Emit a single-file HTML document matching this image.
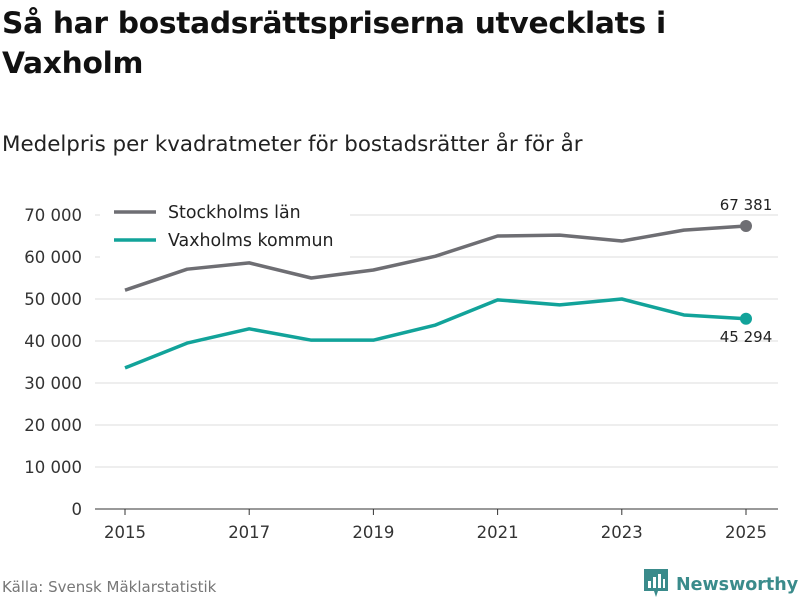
<!DOCTYPE html>
<html><head><meta charset="utf-8"><style>
body{margin:0;width:800px;height:600px;background:#fff;font-family:"DejaVu Sans","Liberation Sans",sans-serif;overflow:hidden;position:relative}
h1{position:absolute;left:2px;top:4px;margin:0;font-size:29.7px;line-height:40px;font-weight:bold;color:#111;letter-spacing:-0.3px}
.sub{position:absolute;left:2px;top:132px;font-size:21.4px;color:#222;white-space:nowrap}
.src{position:absolute;left:2px;top:578px;font-size:15px;color:#777}
.logo{position:absolute;left:644px;top:569px;font-size:17.5px;font-weight:bold;color:#3a8b8b;white-space:nowrap}
</style></head><body>
<h1>Så har bostadsrättspriserna utvecklats i<br>Vaxholm</h1>
<div class="sub">Medelpris per kvadratmeter för bostadsrätter år för år</div>
<svg id="chart" width="800" height="600" style="position:absolute;left:0;top:0"></svg>
<div class="src">Källa: Svensk Mäklarstatistik</div>
<div class="logo"><svg width="24" height="28" style="vertical-align:-7px;margin-right:8px"><path d="M0 0H24V22H14L12 28L10 22H0Z" fill="#3a8b8b"/><rect x="4" y="12" width="3" height="7" fill="#fff"/><rect x="9" y="8" width="3" height="11" fill="#fff"/><rect x="14" y="5" width="3" height="14" fill="#fff"/><rect x="19" y="10" width="2" height="9" fill="#fff"/></svg>Newsworthy</div>
<script>
const years=[2015,2016,2017,2018,2019,2020,2021,2022,2023,2024,2025];
const stockholm=[52100,57100,58600,55000,56900,60200,65000,65200,63800,66400,67381];
const vaxholm=[33600,39500,42900,40200,40200,43800,49800,48600,50000,46200,45294];
const yTicks=[0,10000,20000,30000,40000,50000,60000,70000];
const xTicks=[2015,2017,2019,2021,2023,2025];
const svg=document.getElementById('chart');const NS='http://www.w3.org/2000/svg';
const x=v=>125+(v-2015)*62.1;const y=v=>509-v*0.0042;
const fmt=v=>String(Math.round(v)).replace(/\B(?=(\d{3})+(?!\d))/g,' ');
function mk(t,a,p){const e=document.createElementNS(NS,t);for(const k in a)e.setAttribute(k,a[k]);(p||svg).appendChild(e);return e;}
yTicks.forEach(v=>{
const l=mk('line',{x1:95,x2:778,y1:y(v),y2:y(v),stroke:v?'#ddd':'#333','stroke-width':1});


const t=mk('text',{x:82,y:y(v)+6,'text-anchor':'end','font-size':16.5,fill:'#333'});t.textContent=fmt(v);


});
xTicks.forEach(v=>{
const l=mk('line',{x1:x(v),x2:x(v),y1:509,y2:515,stroke:'#333'});


const t=mk('text',{x:x(v),y:538,'text-anchor':'middle','font-size':16.5,fill:'#333'});t.textContent=v;


});
function series(data,color,name,labelDy){
const p=mk('polyline',{points:data.map((v,i)=>x(years[i])+','+y(v)).join(' '),fill:'none',stroke:color,'stroke-width':3.5,'stroke-linejoin':'round'});


const n=data.length-1;
const c=mk('circle',{cx:x(years[n]),cy:y(data[n]),r:6,fill:color});


const t=mk('text',{x:x(years[n]),y:y(data[n])+labelDy,'text-anchor':'middle','font-size':15,fill:'#222'});t.textContent=fmt(data[n]);


}
mk('rect',{x:100,y:198,width:250,height:60,fill:'#fff'});
series(stockholm,'#6e6e73','stockholm',-16);
series(vaxholm,'#12a39a','vaxholm',23);
[['Stockholms län','#6e6e73',212],['Vaxholms kommun','#12a39a',240]].forEach(([n,c,yy],i)=>{
const l=mk('line',{x1:114,x2:156,y1:yy,y2:yy,stroke:c,'stroke-width':3.5});


const t=mk('text',{x:168,y:yy+6,'font-size':17.4,fill:'#222'});t.textContent=n;


});
</script>
</body></html>
